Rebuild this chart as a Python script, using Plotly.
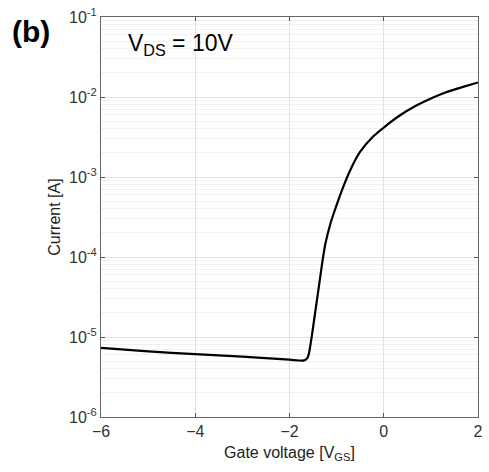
import plotly.graph_objects as go

vgs = [-6.0, -5.0, -4.0, -3.0, -2.0, -1.69, -1.62, -1.588, -1.518, -1.449, -1.378, -1.309,
       -1.24, -1.135, -1.064, -0.89, -0.716, -0.507, -0.226, 0.052, 0.331, 0.681, 1.0,
       1.31, 1.65, 2.0]
ids = [7.3e-6, 6.6e-6, 6.1e-6, 5.7e-6, 5.2e-6, 5.1e-6, 5.5e-6, 6.2e-6, 1.11e-5, 2.16e-5,
       4.2e-5, 8.2e-5, 1.45e-4, 2.57e-4, 3.47e-4, 6.76e-4, 1.2e-3, 2.04e-3, 3.2e-3,
       4.4e-3, 5.83e-3, 7.77e-3, 9.6e-3, 1.14e-2, 1.32e-2, 1.52e-2]

x_ticks = [-6, -4, -2, 0, 2]
y_tickvals = [1e-6, 1e-5, 1e-4, 1e-3, 1e-2, 1e-1]
y_ticktext = ["10<sup>-6</sup>", "10<sup>-5</sup>", "10<sup>-4</sup>", "10<sup>-3</sup>",
              "10<sup>-2</sup>", "10<sup>-1</sup>"]

font = "Liberation Sans, Arial, sans-serif"

fig = go.Figure()
fig.add_trace(go.Scatter(x=vgs, y=ids, mode="lines",
                         line=dict(color="black", width=2.2, shape="spline", smoothing=0.6),
                         showlegend=False))

fig.update_xaxes(range=[-6, 2], tickvals=x_ticks, ticks="inside", ticklen=4,
                 tickcolor="#555", showline=True, linecolor="#666", linewidth=1, mirror="ticks",
                 showgrid=True, gridcolor="#e2e2e2", zeroline=False,
                 tickfont=dict(size=16, color="#333"),
                 title=dict(text="Gate voltage [V<sub>GS</sub>]", font=dict(size=16, color="#222"), standoff=7))
fig.update_yaxes(type="log", range=[-6, -1], tickvals=y_tickvals, ticktext=y_ticktext,
                 ticks="inside", ticklen=4, tickcolor="#555", showline=True, linecolor="#666",
                 linewidth=1, mirror="ticks", showgrid=True, gridcolor="#e2e2e2",
                 minor=dict(showgrid=True, gridcolor="#f1f1f1", dtick="D1", ticks=""),
                 tickfont=dict(size=16, color="#333"),
                 title=dict(text="Current [A]", font=dict(size=16, color="#222"), standoff=4))

fig.add_annotation(text="<b>(b)</b>", xref="paper", yref="paper", x=-0.242, y=0.965,
                   xanchor="left", yanchor="middle", showarrow=False,
                   font=dict(size=30, color="black", family=font))
fig.add_annotation(text="V<sub>DS</sub> = 10V", xref="paper", yref="paper", x=0.065, y=0.93,
                   xanchor="left", yanchor="middle", showarrow=False,
                   font=dict(size=23, color="black", family=font))

fig.update_layout(width=489, height=472, margin=dict(l=101, r=6, t=16, b=55),
                  plot_bgcolor="white", paper_bgcolor="white",
                  font=dict(family=font))
fig.write_html("out.html")
